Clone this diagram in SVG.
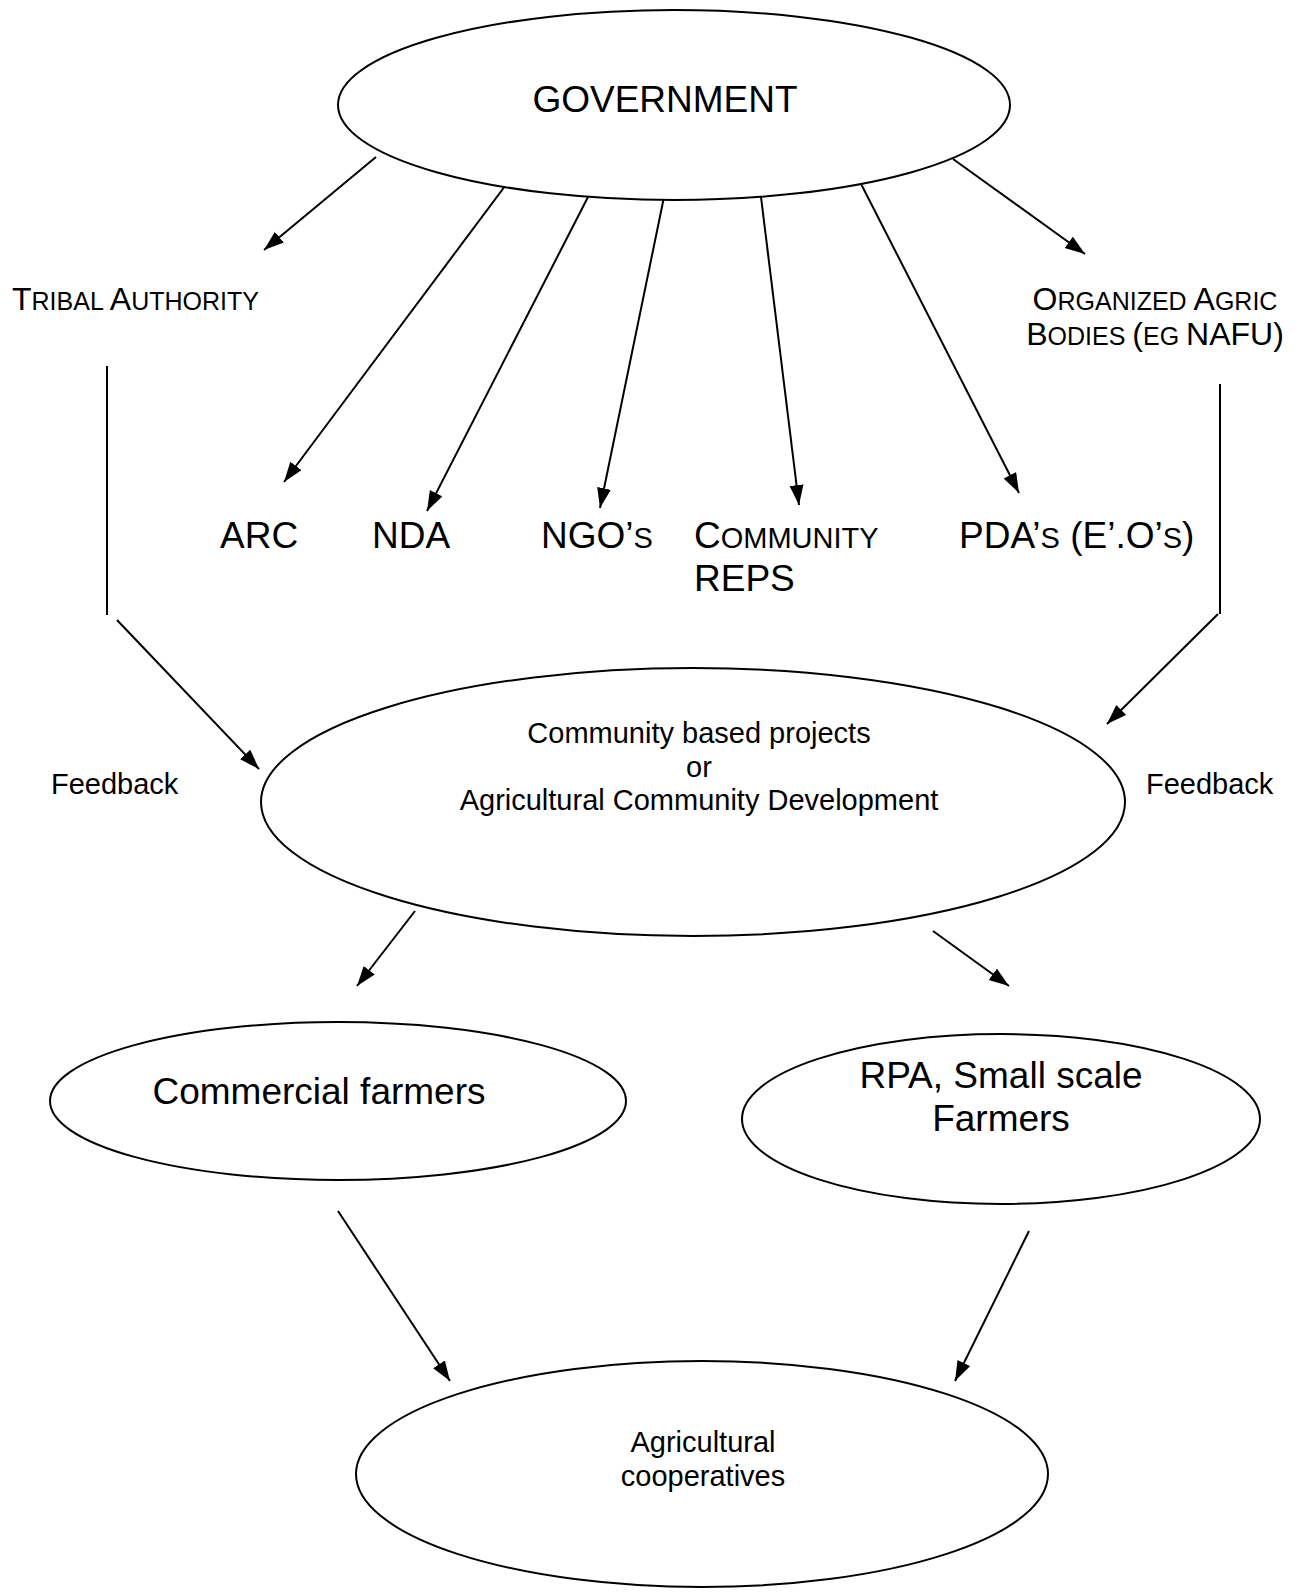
<svg xmlns="http://www.w3.org/2000/svg" width="1300" height="1592" viewBox="0 0 1300 1592">
<style>
.n{fill:#fff;stroke:#000;stroke-width:2}
.t{font-family:"Liberation Sans",Arial,sans-serif;fill:#000}
.c{stroke:#000;stroke-width:2;fill:none}
.a{marker-end:url(#ah)}
.sc{font-size:29px}
</style>
<defs>
<marker id="ah" markerUnits="userSpaceOnUse" markerWidth="22" markerHeight="16" refX="20" refY="7" orient="auto">
<path d="M0,0 L20,7 L0,14 z" fill="#000"/>
</marker>
</defs>
<rect width="1300" height="1592" fill="#fff"/>
<g id="connectors">
<line class="c a" x1="376" y1="157" x2="264" y2="250"/>
<line class="c a" x1="511" y1="178" x2="284" y2="482"/>
<line class="c a" x1="588" y1="197" x2="427" y2="511"/>
<line class="c a" x1="664" y1="197" x2="600" y2="508"/>
<line class="c a" x1="761" y1="197" x2="799" y2="505"/>
<line class="c a" x1="858" y1="178" x2="1019" y2="493"/>
<line class="c a" x1="953" y1="159" x2="1085" y2="254"/>
<line class="c" x1="107" y1="366" x2="107" y2="615"/>
<line class="c a" x1="117" y1="620" x2="259" y2="769"/>
<line class="c" x1="1220" y1="384" x2="1220" y2="614"/>
<line class="c a" x1="1218" y1="614" x2="1107" y2="724"/>
<line class="c a" x1="415" y1="911" x2="357" y2="986"/>
<line class="c a" x1="933" y1="931" x2="1009" y2="986"/>
<line class="c a" x1="338" y1="1211" x2="450" y2="1381"/>
<line class="c a" x1="1029" y1="1231" x2="955" y2="1381"/>
</g>
<g id="government">
<ellipse class="n" cx="674" cy="105" rx="336" ry="95"/>
<text class="t" x="665" y="112" font-size="37" text-anchor="middle">GOVERNMENT</text>
</g>
<g id="tribal">
<text class="t" x="12" y="310" font-size="32">T<tspan font-size="25">RIBAL </tspan>A<tspan font-size="25">UTHORITY</tspan></text>
</g>
<g id="organized">
<text class="t" x="1155" y="310" font-size="32" text-anchor="middle">O<tspan font-size="25">RGANIZED </tspan>A<tspan font-size="25">GRIC</tspan></text>
<text class="t" x="1155" y="345" font-size="32" text-anchor="middle">B<tspan font-size="25">ODIES </tspan>(<tspan font-size="25">EG </tspan>NAFU)</text>
</g>
<g id="arc"><text class="t" x="220" y="548" font-size="37">ARC</text></g>
<g id="nda"><text class="t" x="372" y="548" font-size="37">NDA</text></g>
<g id="ngo"><text class="t" x="541" y="548" font-size="37">NGO’<tspan class="sc">S</tspan></text></g>
<g id="community-reps">
<text class="t" x="694" y="548" font-size="37">C<tspan class="sc">OMMUNITY</tspan></text>
<text class="t" x="694" y="591" font-size="37">REPS</text>
</g>
<g id="pda"><text class="t" x="959" y="548" font-size="37">PDA’<tspan class="sc">S</tspan> (E’.O’<tspan class="sc">S</tspan>)</text></g>
<g id="feedback-left"><text class="t" x="51" y="794" font-size="29">Feedback</text></g>
<g id="feedback-right"><text class="t" x="1146" y="794" font-size="29">Feedback</text></g>
<g id="community-projects">
<ellipse class="n" cx="693" cy="802" rx="432" ry="134"/>
<text class="t" font-size="29" text-anchor="middle"><tspan x="699" y="743">Community based projects</tspan><tspan x="699" y="777">or</tspan><tspan x="699" y="810">Agricultural Community Development</tspan></text>
</g>
<g id="commercial">
<ellipse class="n" cx="338" cy="1101" rx="288" ry="79"/>
<text class="t" x="319" y="1104" font-size="37" text-anchor="middle">Commercial farmers</text>
</g>
<g id="rpa">
<ellipse class="n" cx="1001" cy="1119" rx="259" ry="85"/>
<text class="t" font-size="37" text-anchor="middle"><tspan x="1001" y="1088">RPA, Small scale</tspan><tspan x="1001" y="1131">Farmers</tspan></text>
</g>
<g id="cooperatives">
<ellipse class="n" cx="702" cy="1474" rx="346" ry="113"/>
<text class="t" font-size="29" text-anchor="middle"><tspan x="703" y="1452">Agricultural</tspan><tspan x="703" y="1486">cooperatives</tspan></text>
</g>
</svg>
